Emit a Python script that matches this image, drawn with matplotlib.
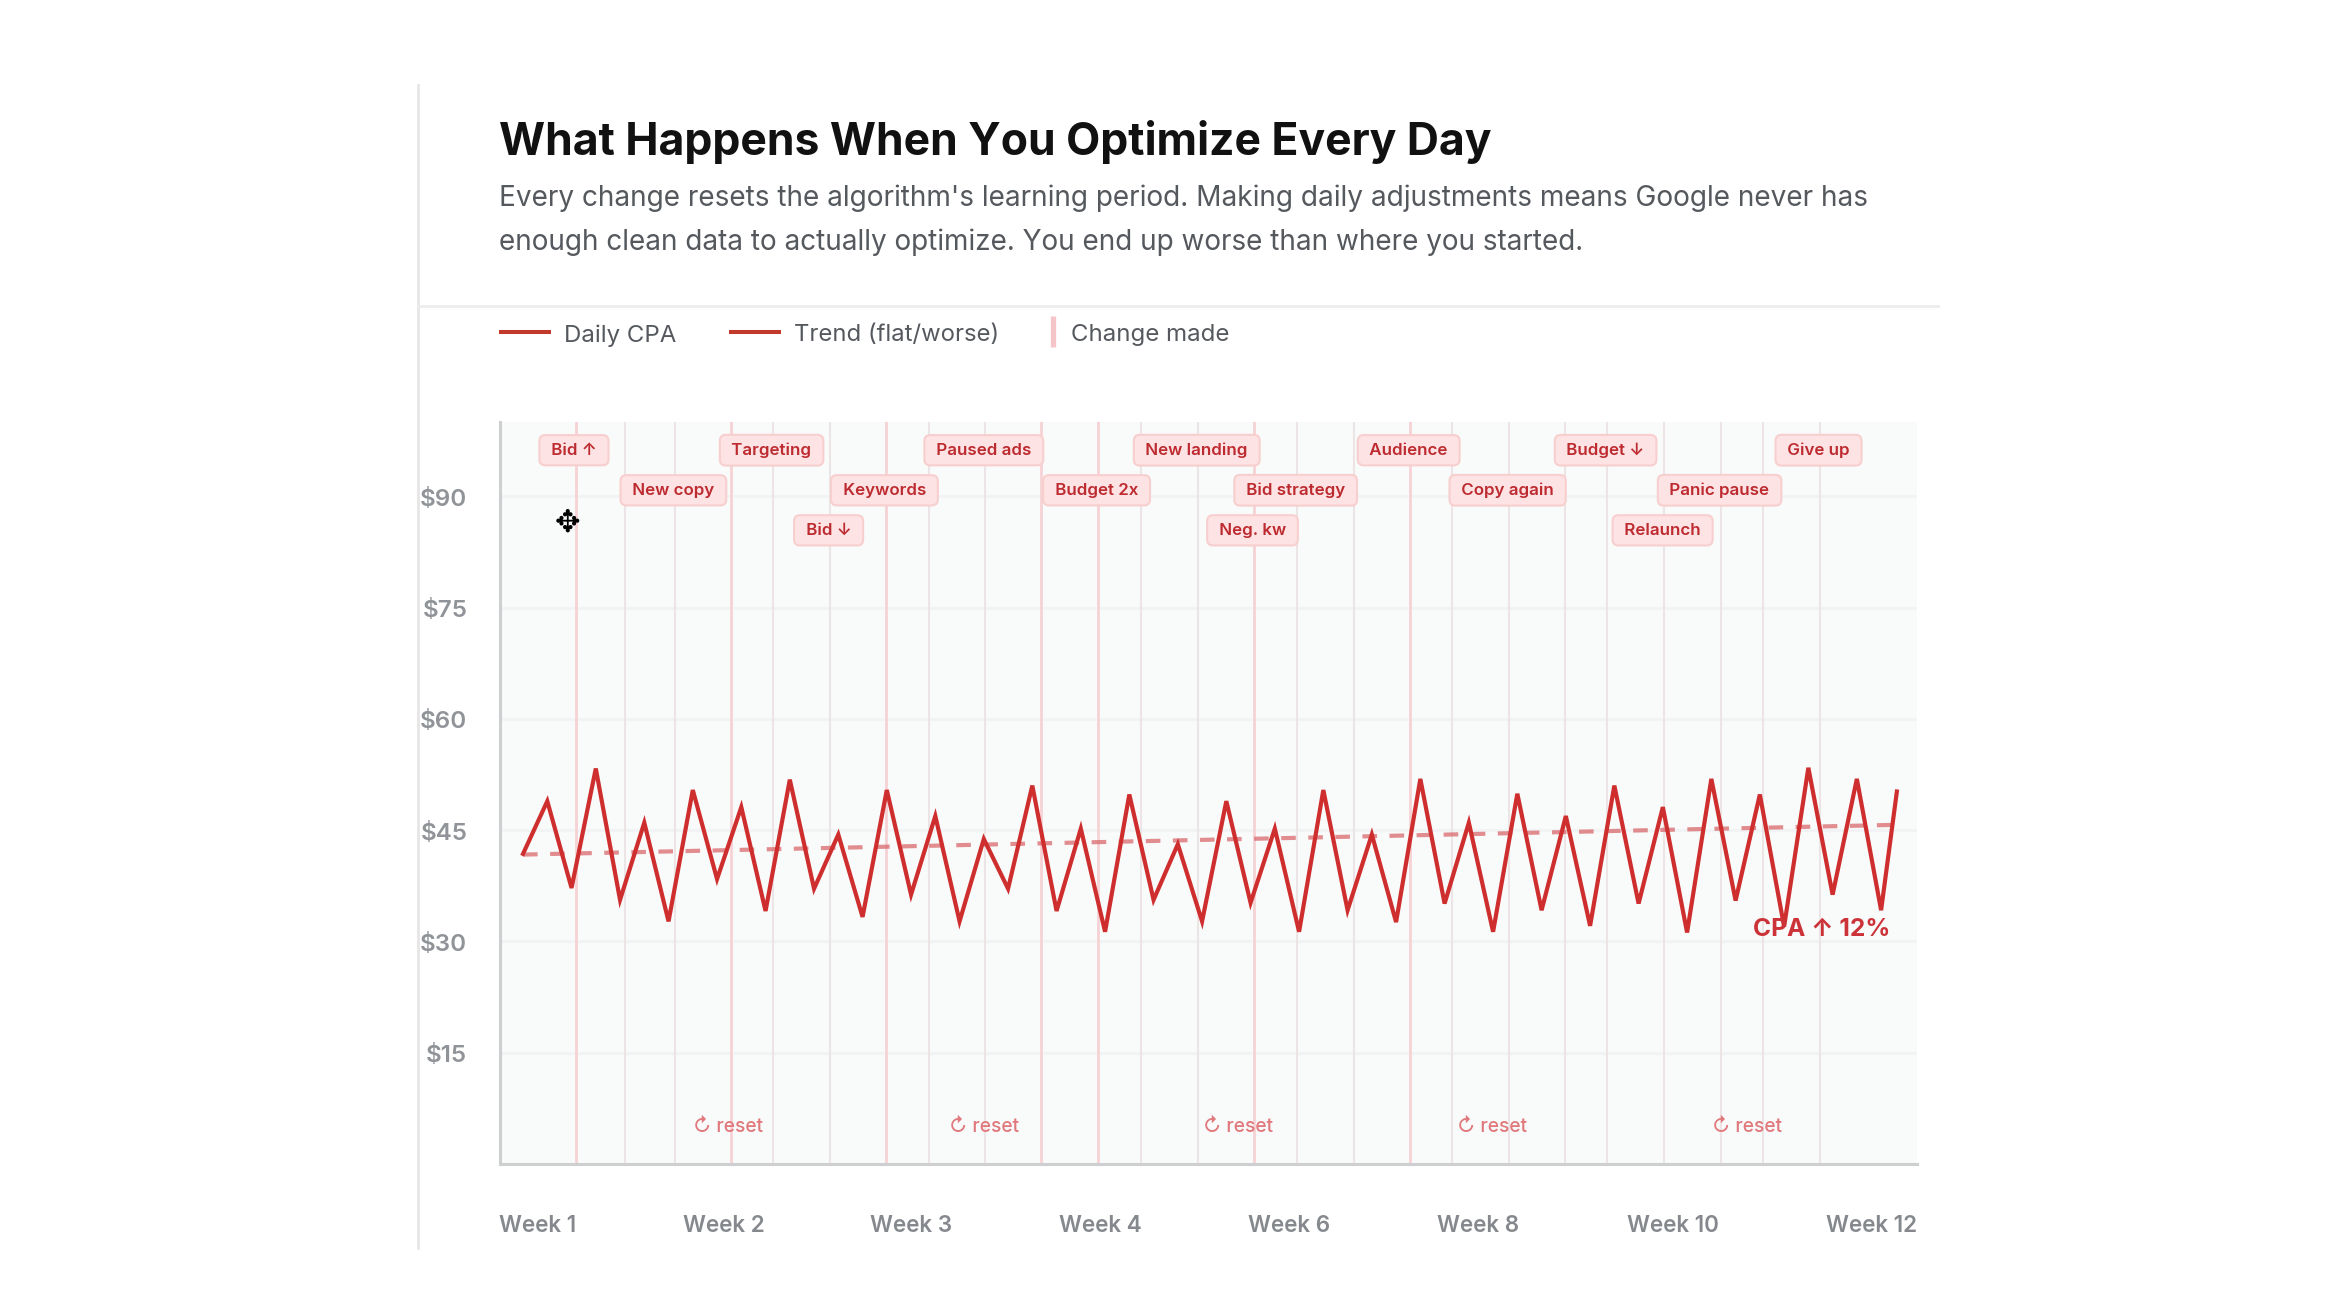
import matplotlib
matplotlib.use('Agg')
import matplotlib.pyplot as plt
from matplotlib.lines import Line2D
from matplotlib.transforms import ScaledTranslation

plt.rcParams['font.family'] = ['Inter', 'DejaVu Sans']

W, H = 2336, 1314

# x is in "days", y in dollars
days = list(range(57)) + [56.65]
cpa = [41.8, 48.9, 37.2, 53.3, 35.6, 46.0, 32.7, 50.4, 38.4, 48.1,
       34.1, 51.8, 37.1, 44.4, 33.3, 50.4, 36.3, 46.9, 32.7, 43.8,
       37.1, 51.0, 34.1, 45.2, 31.3, 49.8, 35.6, 43.1, 32.7, 48.9,
       35.2, 45.2, 31.3, 50.4, 34.2, 44.4, 32.6, 51.9, 35.1, 46.0,
       31.3, 49.9, 34.2, 46.9, 32.1, 51.0, 35.1, 48.1, 31.2, 51.9,
       35.5, 49.8, 32.0, 53.4, 36.3, 51.9, 34.2, 50.2]
trend_x = [0, 56.5]
trend_y = [41.7, 45.7]

change_days = [2.19, 4.21, 6.27, 8.58, 10.31, 12.66, 14.97, 16.74, 19.05, 21.36,
               23.71, 25.48, 27.84, 30.14, 31.92, 34.27, 36.58, 38.31, 40.66,
               42.97, 44.70, 47.05, 49.40, 51.13, 53.48]
strong_changes = [2.19, 8.58, 14.97, 21.36, 23.71, 30.14, 36.58]

change_names = ['Bid ↑', 'New copy', 'Targeting', 'Bid ↓', 'Keywords', 'Paused ads',
                'Budget 2x', 'New landing', 'Neg. kw', 'Bid strategy', 'Audience',
                'Copy again', 'Budget ↓', 'Relaunch', 'Panic pause', 'Give up']
change_x = [2.1, 6.2, 10.25, 12.6, 14.9, 19.0, 23.65, 27.78, 30.08, 31.86,
            36.52, 40.6, 44.64, 46.99, 49.34, 53.42]
change_y = [96.2, 90.8, 96.2, 85.4, 90.8, 96.2, 90.8, 96.2, 85.4, 90.8,
            96.2, 90.8, 96.2, 85.4, 90.8, 96.2]

reset_x = [8.45, 19.0, 29.5, 39.96, 50.47]

y_ticks = [15, 30, 45, 60, 75, 90]
y_labels = ['$15', '$30', '$45', '$60', '$75', '$90']
week_x = [0.6, 8.3, 16.0, 23.8, 31.6, 39.4, 47.4, 55.6]
week_labels = ['Week 1', 'Week 2', 'Week 3', 'Week 4', 'Week 6', 'Week 8', 'Week 10', 'Week 12']

fig = plt.figure(figsize=(W / 100, H / 100), dpi=100, facecolor='white')


def fx(px):
    return px / W


def fy(py):
    return 1 - py / H


# panel frame
fig.add_artist(Line2D([fx(418), fx(418)], [fy(85), fy(1248)], color='#e6e6e6', lw=2))
fig.add_artist(Line2D([fx(418), fx(1938)], [fy(306), fy(306)], color='#ececec', lw=2))

# heading
fig.text(fx(499), fy(142), 'What Happens When You Optimize Every Day', fontsize=32,
         fontweight='bold', color='#111111', va='center')
fig.text(fx(499), fy(198.5), "Every change resets the algorithm's learning period. Making daily adjustments means Google never has",
         fontsize=20.15, color='#55595e', va='center')
fig.text(fx(499), fy(242.5), 'enough clean data to actually optimize. You end up worse than where you started.',
         fontsize=20.1, color='#55595e', va='center')

# legend
fig.add_artist(Line2D([fx(499), fx(551)], [fy(332), fy(332)], color='#c0392b', lw=2.9, solid_capstyle='butt'))
fig.text(fx(564), fy(335.5), 'Daily CPA', fontsize=17.3, color='#55595e', va='center')
fig.add_artist(Line2D([fx(729), fx(781)], [fy(332), fy(332)], color='#c0392b', lw=2.9, solid_capstyle='butt'))
fig.text(fx(794), fy(335.5), 'Trend (flat/worse)', fontsize=17.2, color='#55595e', va='center')
fig.add_artist(Line2D([fx(1053), fx(1053)], [fy(316), fy(347)], color='#f6c5c7', lw=3.8, solid_capstyle='butt'))
fig.text(fx(1071), fy(335.5), 'Change made', fontsize=17.3, color='#55595e', va='center')

ax = fig.add_axes([fx(500), fy(1164), (1917 - 500) / W, (1164 - 422) / H])
ax.set_facecolor('#f9fafa')
ax.set_xlim(-0.95, 57.48)
ax.set_ylim(0, 100)

ax.set_yticks(y_ticks, y_labels)
ax.set_xticks(week_x, week_labels)
ax.tick_params(axis='y', length=0, pad=23.5, labelsize=17.4, labelcolor='#909498')
ax.tick_params(axis='x', length=0, pad=37, labelsize=16.2, labelcolor='#85898e')
for lab in ax.get_xticklabels() + ax.get_yticklabels():
    lab.set_fontweight('semibold')
# the dollar labels sit a touch below their grid lines
for lab in ax.get_yticklabels():
    lab.set_transform(lab.get_transform() + ScaledTranslation(0, -0.012, fig.dpi_scale_trans))

ax.grid(axis='y', color='#f1f3f4', lw=2.2)
ax.set_axisbelow(True)
for side in ['top', 'right']:
    ax.spines[side].set_visible(False)
for side in ['left', 'bottom']:
    ax.spines[side].set_color('#cdcfd1')
    ax.spines[side].set_linewidth(2.2)

for d in change_days:
    if d in strong_changes:
        ax.axvline(d, color='#f6d2d4', lw=2, zorder=1)
    else:
        ax.axvline(d, color='#ece4e5', lw=1.5, zorder=1)

ax.plot(trend_x, trend_y, color='#d9686c', lw=3, alpha=0.75, dashes=(3.5, 3), zorder=2)
ax.plot(days, cpa, color='#cf2e2e', lw=3, zorder=3, solid_joinstyle='miter')

for name, x, y in zip(change_names, change_x, change_y):
    ax.text(x, y, ' ' + name + ' ', ha='center', va='center', fontsize=12.2, fontweight='semibold',
            color='#bd2a30', zorder=5,
            bbox=dict(boxstyle='round,pad=0.45,rounding_size=0.35', fc='#fde3e3', ec='#f8cfcf', lw=1.5))

for x in reset_x:
    ax.text(x, 4.95, '↻ reset', ha='center', va='center', fontsize=13.8, fontweight='medium',
            color='#e0787c', zorder=4)

ax.text(56.37, 31.6, 'CPA ↑ 12%', ha='right', va='center', fontsize=17.7, fontweight='bold',
        color='#cc3338', zorder=4)

# the mouse pointer sitting on the screenshot
fig.text(fx(567), fy(523), '✥', fontsize=22, color='black', ha='center', va='center',
         family=['DejaVu Sans'])

fig.savefig('out.png', dpi=100)
